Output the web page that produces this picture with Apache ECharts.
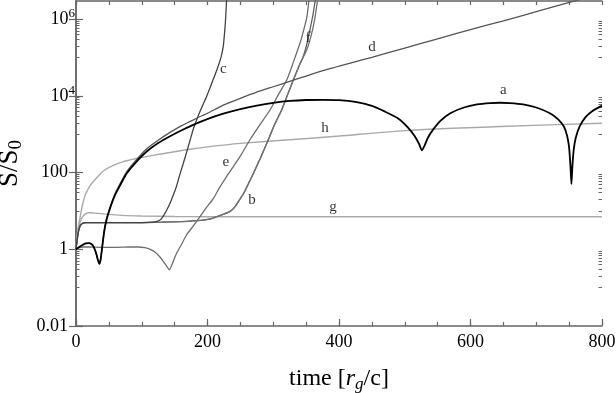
<!DOCTYPE html>
<html><head><meta charset="utf-8">
<script src="https://cdn.jsdelivr.net/npm/echarts@6/dist/echarts.min.js"></script>
<style>html,body{margin:0;padding:0;background:#fff}#c{width:616px;height:393px}</style>
</head><body><div id="c"></div>
<script>
// ---- data (time in r_g/c, value S/S0) ----
const curveA = [[0,1],[5,1.15],[10,1.3],[15,1.42],[20,1.45],[25,1.3],[28,1.05],[31,0.75],[33,0.55],[35.5,0.42],[37.5,0.55],[40,1.2],[43,3],[46,5.5],[50,9.5],[55,17],[60,27.5],[68,50],[77,95],[90,178],[107.5,355],[125,590],[143,890],[160,1260],[175,1660],[190,2140],[210,2880],[224,3470],[250,4570],[275,5620],[300,6610],[325,7410],[350,7850],[376,7950],[400,7800],[425,7000],[450,5500],[470,3900],[490,2600],[505,1500],[515,900],[522,550],[526,380],[530,500],[535,800],[542,1250],[555,2300],[570,3600],[590,5000],[610,6000],[630,6500],[645,6650],[660,6500],[680,6000],[700,5000],[720,3600],[733,2500],[742,1600],[747,900],[750,450],[752,150],[753.5,50],[755,150],[757,400],[760,800],[766,1600],[775,2800],[785,4000],[800,5600]];
const curveB = [[0,1],[3,2.5],[6,4],[10,4.8],[15,5],[50,5],[100,5],[130,5.1],[160,5.3],[190,5.7],[205,6.2],[214,7.1],[225,8.3],[234,9.6],[242,13],[249,20],[255,29],[260,43],[265,64],[280,230],[292.5,720],[302,1800],[312.8,4300],[322,11000],[330.5,26000],[340,65000],[351,160000],[358,400000],[363,1000000],[367.5,3200000]];
const curveC = [[0,1],[3,2.5],[6,4],[10,4.8],[15,5],[50,5],[100,5],[120,5.2],[128,5.8],[133,7.5],[138,10.6],[143,16],[148,26],[153,45],[158,90],[163,170],[168,330],[173,650],[178,1300],[184,2500],[190,4500],[199,10000],[208,25000],[216,58000],[221,110000],[224,200000],[226,450000],[227.5,1000000],[229,3200000]];
const curveD = [[0,1],[5,1.15],[10,1.3],[15,1.42],[20,1.45],[25,1.3],[28,1.05],[31,0.75],[33,0.55],[35.5,0.42],[37.5,0.55],[40,1.2],[43,3.1],[46,5.8],[50,10],[55,18],[60,30],[68,55],[77,105],[90,200],[107.5,420],[125,700],[143,1120],[160,1660],[173,2140],[186,2750],[200,3550],[224,5750],[250,8700],[275,12600],[300,17400],[325,24000],[350,33100],[386,51300],[420,74000],[450,102000],[500,178000],[550,309000],[600,537000],[650,912000],[700,1580000],[746,2630000],[770,3400000]];
const curveE = [[0,1],[5,1.1],[10,1.15],[20,1.15],[40,1.12],[60,1.12],[80,1.15],[95,1.15],[105,1.1],[113,1.0],[120,0.85],[127,0.65],[133,0.48],[138,0.36],[142,0.29],[146,0.4],[150,0.6],[153,0.79],[160,1.3],[168,2.36],[178,4],[188.6,7.1],[198,12],[208.8,21],[218,40],[229,79],[240,150],[252,310],[264.6,720],[280,1800],[295,4300],[308,11000],[320.5,26000],[331,80000],[340.7,240000],[346,500000],[351,1100000],[354.4,3200000]];
const curveF = [[0,1],[3,2.5],[6,4],[10,4.8],[15,5],[50,5],[100,5],[130,5.1],[160,5.3],[190,5.7],[205,6.2],[214,7.1],[225,8.3],[234,9.6],[242,13],[249,20],[255,29],[260,43],[265,64],[280,230],[292.5,720],[302,1800],[312.8,4300],[322,11000],[330.5,26000],[340,65000],[345,100000],[351,220000],[356,550000],[360,1200000],[364,3200000]];
const curveG = [[0,1],[2,2],[4,3.5],[7,5.5],[10,7],[14,8.3],[18,8.9],[22,9],[30,8.8],[45,8.3],[70,7.7],[100,7.4],[150,7.2],[200,7.1],[400,7.1],[800,7.1]];
const curveH = [[0,1],[2,2.5],[4,4.5],[6,6.5],[8,10],[10,15],[12,20],[14,26],[18,36],[22,47],[26,58],[32,75],[41.5,110],[55,150],[72,194],[90,230],[107.5,262],[125,300],[143,335],[170,400],[200,470],[250,580],[325,720],[400,900],[500,1250],[645,1600],[800,1950]];
const curveLabels = [['a',650,14500],['b',267.7,19.4],['c',224,51000],['d',450,190000],['e',228,190],['f',353,330000],['g',391,12.7],['h',378.7,1470]];
const xMajorTicks = [0,200,400,600,800];
const yMajorTicks = [0.01,1,100,10000,1000000];
const yMinorDecades = [0.1,10,1000,100000];

const FONT = '"Liberation Serif","Times New Roman",serif';
const AX = '#666';
const yMinorTicks = [];
yMinorDecades.forEach(d => { for (let k = 1; k <= 9; k++) yMinorTicks.push(k * d); });

function yLabel(v) {
  const e = Math.round(Math.log10(v));
  if (e >= 4) return '{b|10}{s|' + e + '}';
  return '{p|' + (e < 0 ? Number(Math.pow(10, e).toFixed(2)) : Math.pow(10, e)) + '}';
}

const chart = echarts.init(document.getElementById('c'), null, {renderer: 'canvas'});
const baseX = {type: 'value', min: 0, max: 800, splitLine: {show: false}, axisLabel: {show: false}};
const baseY = {type: 'log', logBase: 10, min: 0.01, max: 3e6, splitLine: {show: false}, axisLabel: {show: false}};
function line(name, data, color, width, z) {
  return {name, type: 'line', data, xAxisIndex: 0, yAxisIndex: 0, showSymbol: false, symbol: 'none', smooth: 0.2,
    lineStyle: {color, width}, z, silent: true, clip: true};
}
chart.setOption({
  animation: false,
  grid: {left: 76, right: 14, top: 1, bottom: 67, containLabel: false, outerBoundsMode: 'none'},
  xAxis: [
    Object.assign({}, baseX, {position: 'bottom', interval: 50,
      axisLine: {show: true, lineStyle: {color: AX, width: 1.5}},
      axisTick: {inside: true, length: 4, lineStyle: {color: AX, width: 1.2}},
      axisLabel: {show: true, formatter: v => xMajorTicks.includes(v) ? String(v) : '', color: '#000', fontFamily: FONT, fontSize: 18, margin: 7},
      name: '{n|time [}{i|r}{s|g}{n|/c]}', nameLocation: 'middle', nameGap: 39,
      nameTextStyle: {rich: {
        n: {fontFamily: FONT, fontSize: 24, lineHeight: 28, color: '#000'},
        i: {fontFamily: FONT, fontSize: 24, lineHeight: 28, fontStyle: 'italic', color: '#000'},
        s: {fontFamily: FONT, fontSize: 17, lineHeight: 16, fontStyle: 'italic', verticalAlign: 'bottom', color: '#000'}
      }}}),
    Object.assign({}, baseX, {position: 'bottom', interval: 200,
      axisLine: {show: false}, axisTick: {inside: true, length: 7, lineStyle: {color: AX, width: 1.2}}}),
    Object.assign({}, baseX, {position: 'top', interval: 50,
      axisLine: {show: true, lineStyle: {color: AX, width: 1.5}},
      axisTick: {inside: true, length: 4, lineStyle: {color: AX, width: 1.2}}})
  ],
  yAxis: [
    Object.assign({}, baseY, {position: 'left',
      axisLine: {show: true, lineStyle: {color: AX, width: 1.5}},
      axisTick: {inside: true, length: 7, customValues: yMajorTicks, lineStyle: {color: AX, width: 1.2}},
      axisLabel: {show: true, customValues: yMajorTicks, formatter: yLabel, margin: 1,
        rich: {
          p: {fontFamily: FONT, fontSize: 18, color: '#000', padding: [0, 7, 0, 0]},
          b: {fontFamily: FONT, fontSize: 18, lineHeight: 24, color: '#000'},
          s: {fontFamily: FONT, fontSize: 13, lineHeight: 13, verticalAlign: 'top', color: '#000'}
        }},
      name: '{n|S/S}{s|0}', nameLocation: 'middle', nameGap: 50, nameRotate: 90,
      nameTextStyle: {rich: {
        n: {fontFamily: FONT, fontSize: 27, lineHeight: 32, color: '#000'},
        s: {fontFamily: FONT, fontSize: 19, lineHeight: 19, verticalAlign: 'bottom', color: '#000'}
      }}}),
    Object.assign({}, baseY, {position: 'left', axisLine: {show: false},
      axisTick: {inside: true, length: 3.5, customValues: yMinorTicks, lineStyle: {color: AX, width: 1}}}),
    Object.assign({}, baseY, {position: 'right',
      axisLine: {show: true, lineStyle: {color: AX, width: 1.5}},
      axisTick: {inside: true, length: 7, customValues: yMajorTicks, lineStyle: {color: AX, width: 1.2}}}),
    Object.assign({}, baseY, {position: 'right', axisLine: {show: false},
      axisTick: {inside: true, length: 3.5, customValues: yMinorTicks, lineStyle: {color: AX, width: 1}}})
  ],
  series: [
    line('g', curveG, '#a9a9a9', 1.4, 2),
    line('h', curveH, '#a9a9a9', 1.4, 2),
    line('e', curveE, '#6e6e6e', 1.3, 3),
    line('f', curveF, '#5e5e5e', 1.3, 3),
    line('b', curveB, '#707070', 1.3, 3),
    line('c', curveC, '#444444', 1.3, 3),
    line('d', curveD, '#555555', 1.3, 3),
    line('a', curveA, '#000000', 1.8, 4),
    {type: 'scatter', xAxisIndex: 0, yAxisIndex: 0, symbolSize: 0, silent: true, z: 6,
      data: curveLabels.map(l => [l[1], l[2], l[0]]),
      label: {show: true, position: 'inside', formatter: p => p.data[2], color: '#000', fontFamily: FONT, fontSize: 15}}
  ]
});
</script></body></html>
